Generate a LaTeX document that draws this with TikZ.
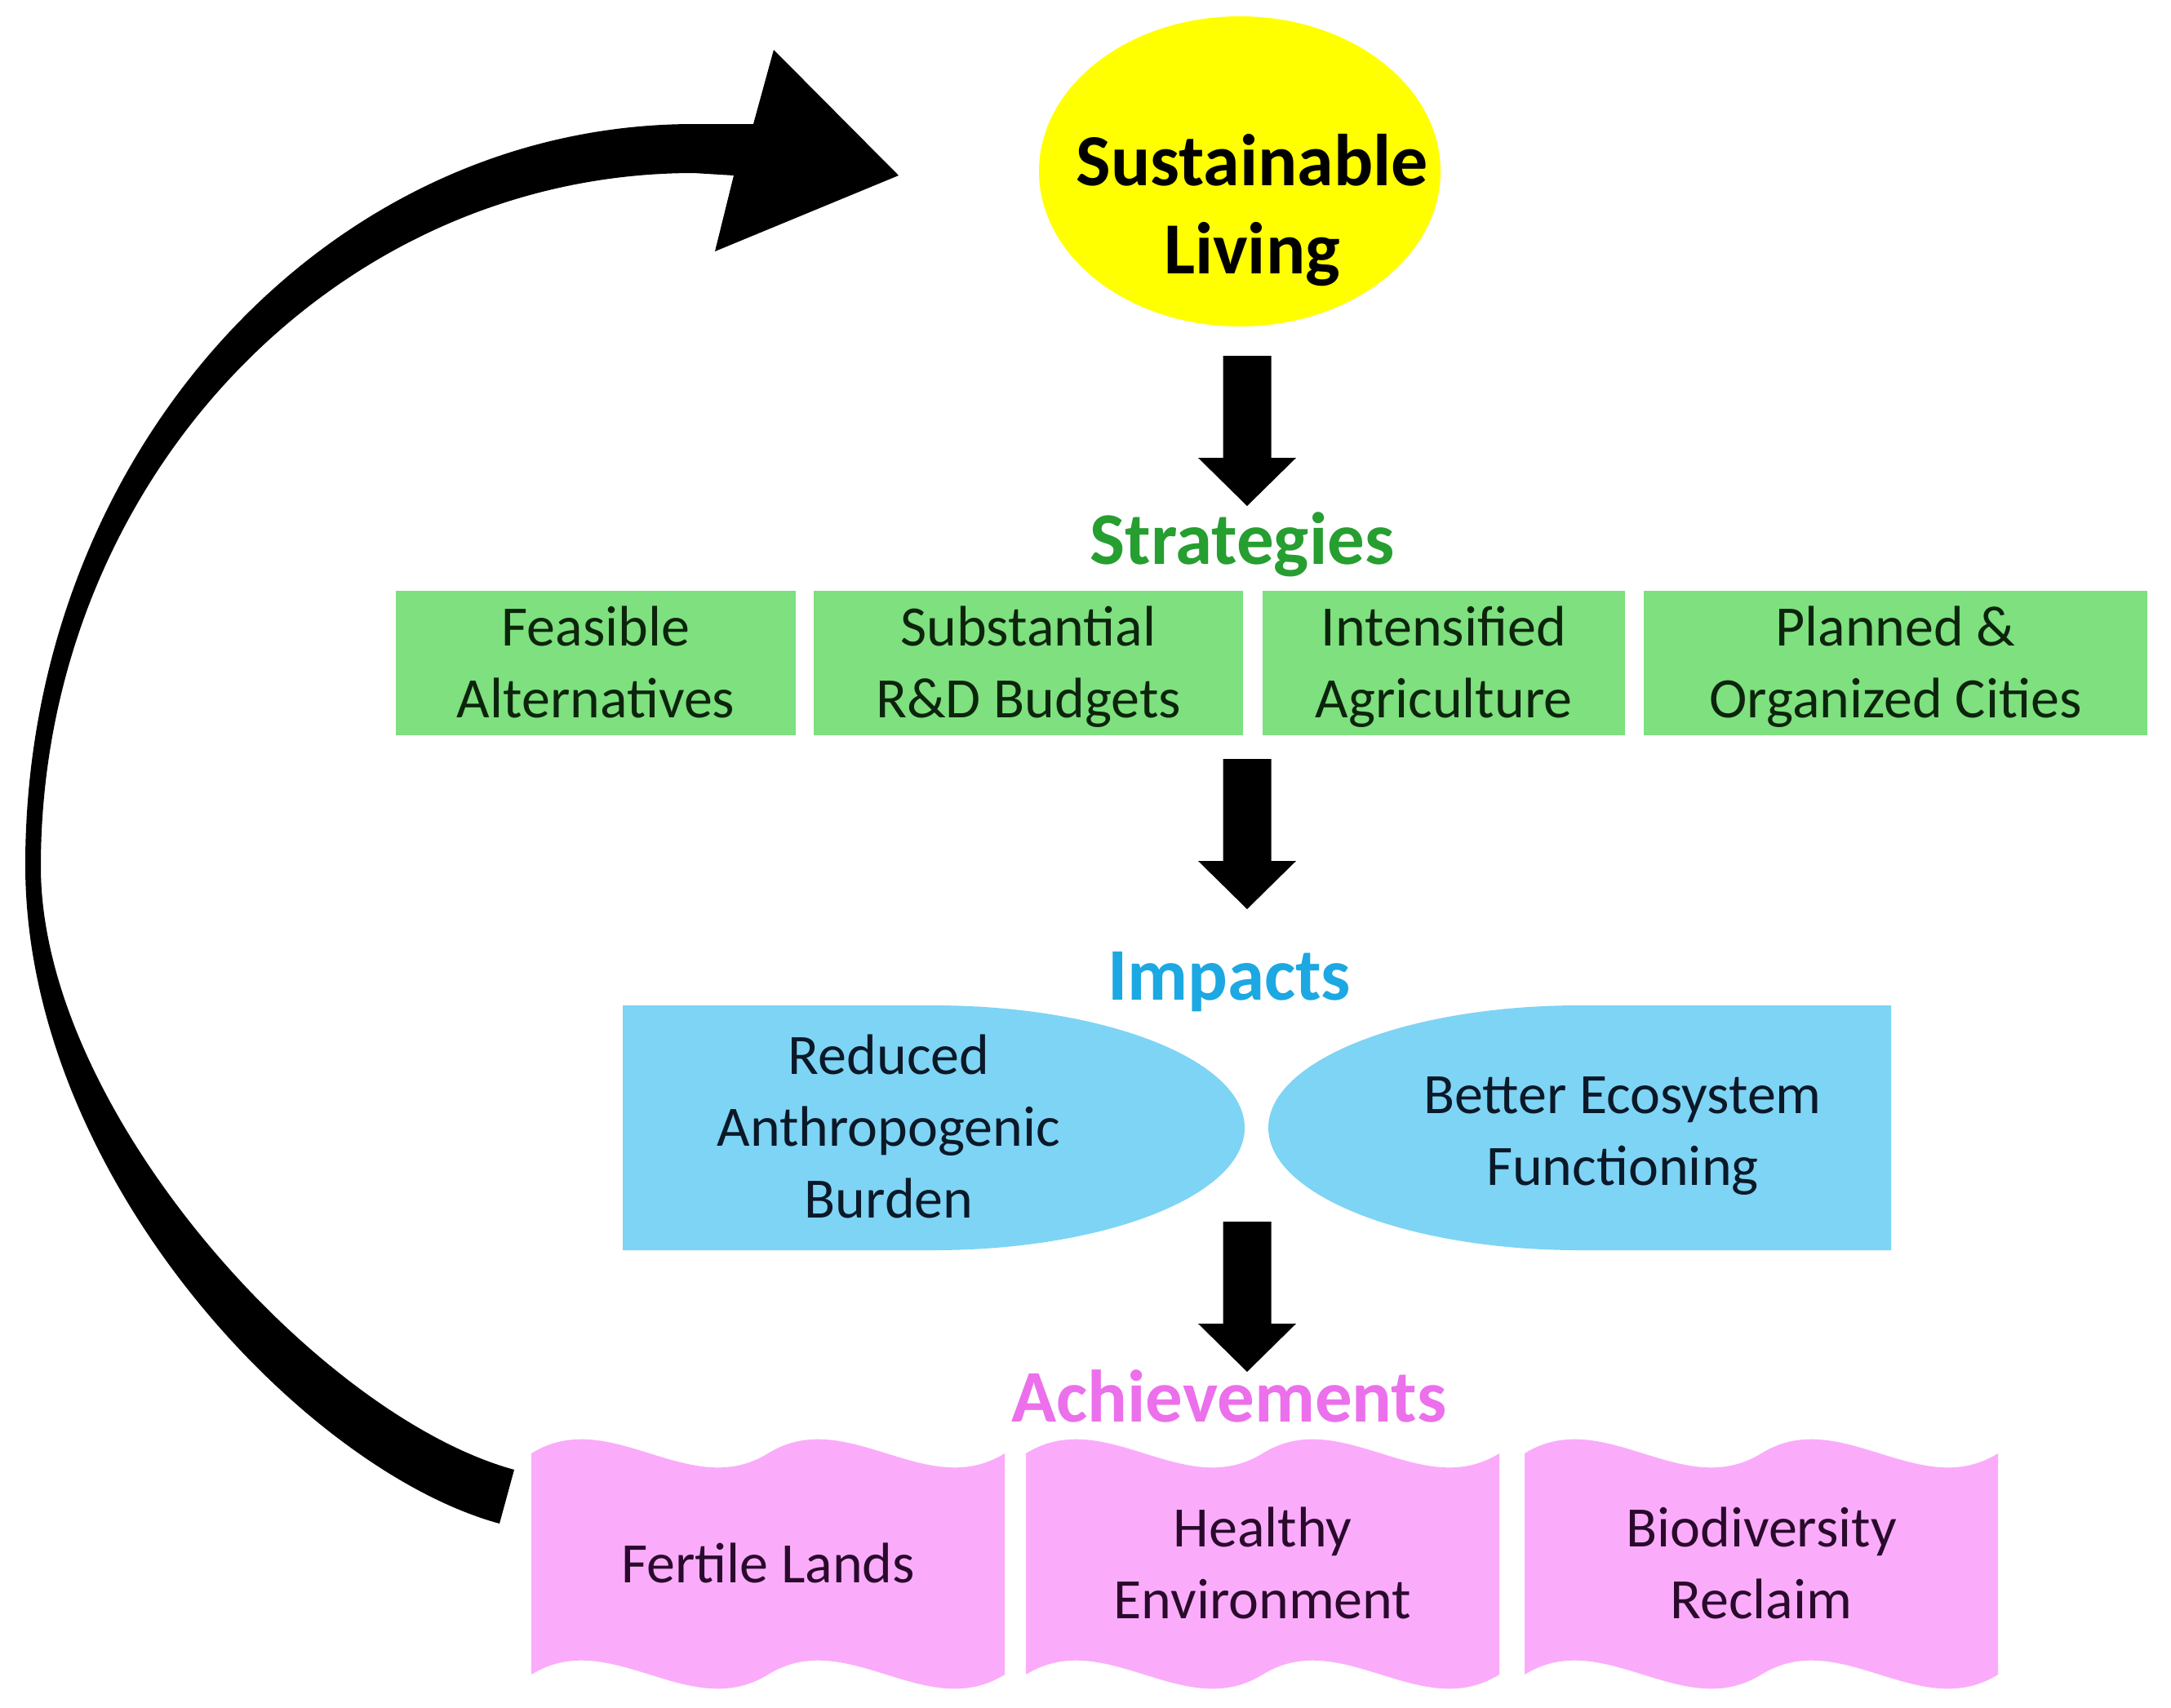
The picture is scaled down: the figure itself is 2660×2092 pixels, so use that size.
\documentclass[tikz,border=0pt]{standalone}
\usepackage{fontspec}
\setmainfont{Carlito}
\usetikzlibrary{shapes.geometric}
\definecolor{slyellow}{RGB}{255,255,0}
\definecolor{boxgreen}{RGB}{126,224,126}
\definecolor{headgreen}{RGB}{38,158,48}
\definecolor{impblue}{RGB}{126,212,244}
\definecolor{headblue}{RGB}{28,168,226}
\definecolor{achpink}{RGB}{250,172,250}
\definecolor{headpink}{RGB}{236,112,236}
\definecolor{txtgreen}{RGB}{12,36,12}
\definecolor{txtblue}{RGB}{10,24,40}
\definecolor{txtpink}{RGB}{42,10,44}
% struts: first line (taller, pushes text down a little) and following lines
\newcommand\lf{\rule[-0.256em]{0pt}{1.16em}}
\newcommand\ls{\rule[-0.256em]{0pt}{0.9em}}
\newcommand\blockarrow[1]{\fill[black, shift={(#1)}] (-29.5,0) -- (29.5,0) -- (29.5,125) -- (60,125) -- (0,184) -- (-60,125) -- (-29.5,125) -- cycle;}
\newcommand\wavebox[1]{\fill[achpink, shift={(#1)}] (-290,-135.5) .. controls (-193.3,-195.5) and (-96.7,-75.5) .. (0,-135.5) .. controls (96.7,-195.5) and (193.3,-75.5) .. (290,-135.5) -- (290,135.5) .. controls (193.3,195.5) and (96.7,75.5) .. (0,135.5) .. controls (-96.7,195.5) and (-193.3,75.5) .. (-290,135.5) -- cycle;}
\begin{document}
\begin{tikzpicture}[x=0.25pt,y=-0.25pt,
  boxsize/.style 2 args={minimum width=#1*0.25pt, minimum height=#2*0.25pt},
  titletxt/.style={font=\fontsize{22.5}{27}\selectfont\bfseries, align=center, inner sep=0pt},
  headtxt/.style={font=\fontsize{22.75}{27}\selectfont\bfseries, inner sep=0pt},
  bodytxt/.style={font=\fontsize{17.5}{22}\selectfont, align=center, inner sep=0pt},
  gbox/.style={bodytxt, fill=boxgreen, text=txtgreen},
]
\useasboundingbox[fill=white] (0,0) rectangle (2660,2092);

% big return arrow (from the achievements back to sustainable living)
\coordinate (looptail) at (621,1834);
\coordinate (looptip) at (1101,215);
\fill[black] (899,215) -- (850,212)
  arc[start angle=-90, end angle=-180, x radius=800, y radius=850]
  .. controls (50,1360) and (389,1735) .. (630,1801)
  -- (612,1867)
  .. controls (371,1801) and (31,1440) .. (31,1060)
  arc[start angle=180, end angle=270, x radius=819, y radius=908]
  -- (923,152) -- (948,61) -- (looptip) -- (876,308) -- cycle;

% sustainable living
\node[ellipse, fill=slyellow, boxsize={492}{380}, inner sep=0pt] (sl) at (1519,210) {};
\node[titletxt] (sltext) at (1534,252) {\lf Sustainable\\\ls Living};

% arrow 1
\coordinate (a1s) at (1528,436);
\blockarrow{a1s}

% strategies
\node[headtxt, text=headgreen] (strat) at (1522,662) {\lf Strategies};
\node[gbox, boxsize={490}{177}] (g1) at (730,812.5) {\lf Feasible\\\ls Alternatives};
\node[gbox, boxsize={526}{177}] (g2) at (1260,812.5) {\lf Substantial\\\ls R\&D Budgets};
\node[gbox, boxsize={444}{177}] (g3) at (1769,812.5) {\lf Intensified\\\ls Agriculture};
\node[gbox, boxsize={617}{177}] (g4) at (2322.5,812.5) {\lf Planned \&\\\ls Organized Cities};

% arrow 2
\coordinate (a2s) at (1528,930);
\blockarrow{a2s}

% impacts
\node[headtxt, text=headblue] (imp) at (1506,1196) {\lf Impacts};
\fill[impblue] (763,1232) -- (1144,1232) arc[start angle=-90, end angle=90, x radius=381, y radius=150] -- (763,1532) -- cycle;
\fill[impblue] (2317,1232) -- (1935.5,1232) arc[start angle=-90, end angle=-270, x radius=381.5, y radius=150] -- (2317,1532) -- cycle;
\node[bodytxt, text=txtblue] (red) at (1089,1382) {\lf Reduced\\\ls Anthropogenic\\\ls Burden};
\node[bodytxt, text=txtblue] (bet) at (1988,1386) {\lf Better Ecosystem\\\ls Functioning};

% arrow 3
\coordinate (a3s) at (1528,1497);
\blockarrow{a3s}

% achievements
\node[headtxt, text=headpink] (ach) at (1506,1713) {\lf Achievements};
\coordinate (w1) at (941,1916.5);
\coordinate (w2) at (1547,1916.5);
\coordinate (w3) at (2158,1916.5);
\wavebox{w1}
\wavebox{w2}
\wavebox{w3}
\node[bodytxt, text=txtpink] (fert) at (w1) {\lf Fertile Lands};
\node[bodytxt, text=txtpink] (heal) at (w2) {\lf Healthy\\\ls Environment};
\node[bodytxt, text=txtpink] (bio) at (w3) {\lf Biodiversity\\\ls Reclaim};
\end{tikzpicture}
\end{document}
